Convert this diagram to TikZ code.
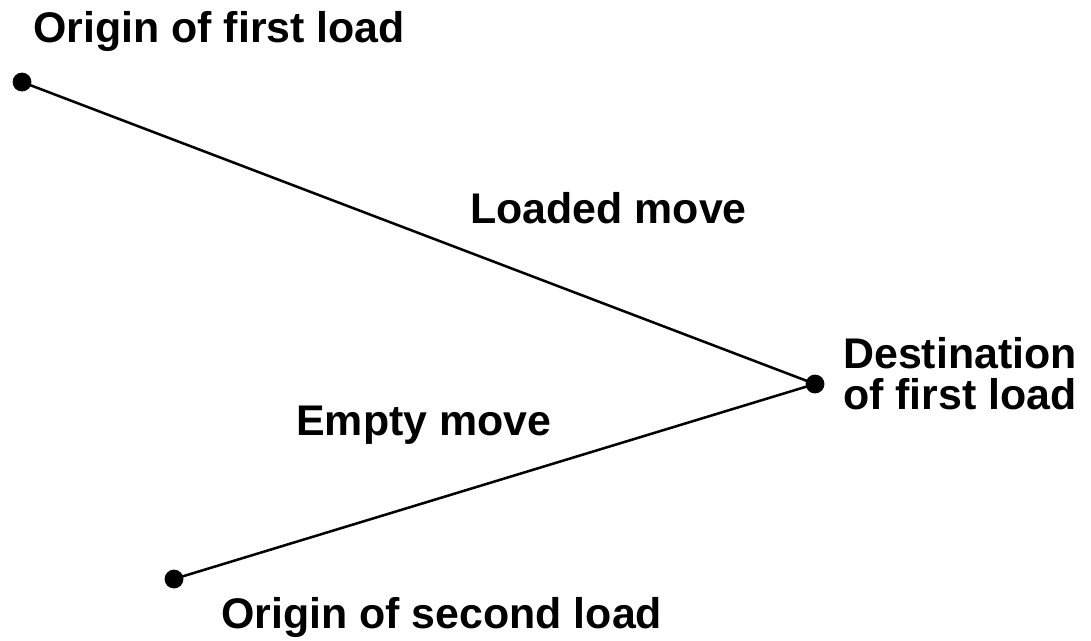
\documentclass[tikz,border=0pt]{standalone}
\usepackage{fontspec}
\setmainfont{Liberation Sans}
\usetikzlibrary{positioning}

\begin{document}
\begin{tikzpicture}[x=0.025cm,y=-0.025cm,
  stop/.style={circle,fill=black,inner sep=0pt,minimum size=0.47cm},
  lbl/.style={anchor=base west,inner sep=0pt,font=\fontsize{30.5}{36}\selectfont\bfseries},
  move/.style={line width=1.8pt}]
\useasboundingbox (0,0) rectangle (1091,640);
\node[stop] (o1) at (22,82) {};
\node[stop] (d1) at (815,384) {};
\node[stop] (o2) at (174,579) {};
\draw[move] (o1.center) -- (d1.center) -- (o2.center);
\node[lbl] (o1l) at (33,42) {Origin of first load};
\node[lbl] (loaded) at (470,223) {Loaded move};
\node[lbl] (d1l) at (843,368) {Destination};
\node[lbl] (d1m) at (843,409) {of first load};
\node[lbl] (empty) at (296,435) {Empty move};
\node[lbl] (o2l) at (221,628) {Origin of second load};
\end{tikzpicture}
\end{document}
